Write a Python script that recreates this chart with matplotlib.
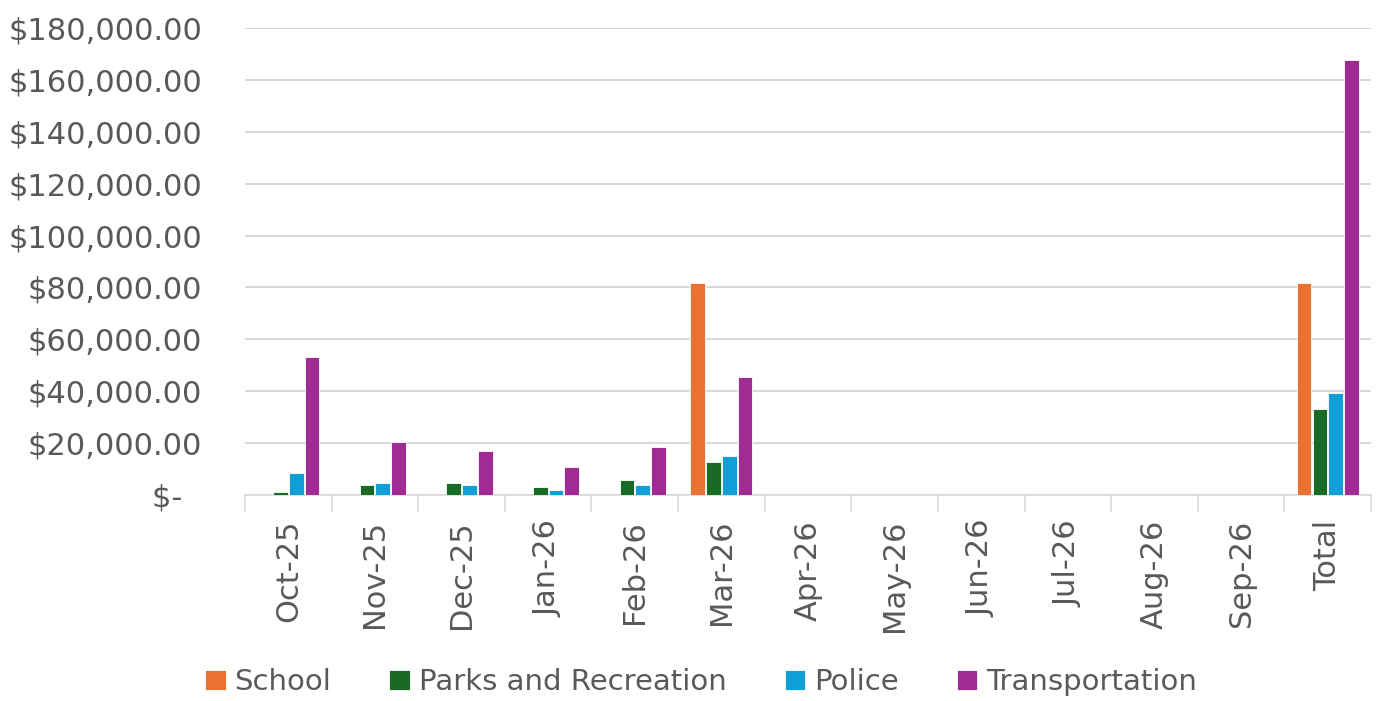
import numpy as np
import matplotlib
matplotlib.use("Agg")
import matplotlib.pyplot as plt
from matplotlib.ticker import FuncFormatter, FixedLocator

plt.rcParams["font.family"] = ["DejaVu Sans"]

months = ["Oct-25", "Nov-25", "Dec-25", "Jan-26", "Feb-26", "Mar-26", "Apr-26",
          "May-26", "Jun-26", "Jul-26", "Aug-26", "Sep-26", "Total"]
school = [0, 0, 0, 0, 0, 81800, 0, 0, 0, 0, 0, 0, 81800]
parks = [1300, 4000, 4800, 2900, 5600, 12600, 0, 0, 0, 0, 0, 0, 33300]
police = [8300, 4800, 4000, 2100, 3800, 15100, 0, 0, 0, 0, 0, 0, 39500]
transport = [53300, 20400, 16900, 10700, 18500, 45500, 0, 0, 0, 0, 0, 0, 167800]

series = [("School", school, "#E97132"),
          ("Parks and Recreation", parks, "#196B24"),
          ("Police", police, "#0F9ED5"),
          ("Transportation", transport, "#A02B93")]

TXT = "#595959"
GRID = "#D9D9D9"

fig = plt.figure(figsize=(13.81, 7.01), dpi=100)
ax = fig.add_axes([0.1774, 0.2939, 0.8154, 0.6661])

x = np.arange(len(months))
step = 0.182
bw = 0.17
for i, (name, vals, col) in enumerate(series):
    ax.bar(x + (i - 1.5) * step, vals, width=bw, color=col, edgecolor="white",
           linewidth=0.6, label=name, zorder=3)

ax.set_xlim(-0.5, len(months) - 0.5)
ax.set_ylim(0, 180000)
ax.set_yticks(np.arange(0, 180001, 20000))
ax.yaxis.set_major_formatter(FuncFormatter(
    lambda v, p: f"${v:,.2f}" if v > 0 else "$-  "))
ax.grid(axis="y", color=GRID, linewidth=1.5, zorder=0)
ax.tick_params(axis="y", length=0, labelsize=22, labelcolor=TXT, pad=31)

ax.set_xticks(x)
ax.set_xticklabels(months, rotation=90, fontsize=22, color=TXT)
ax.tick_params(axis="x", which="major", length=0, pad=18)
ax.xaxis.set_minor_locator(FixedLocator(np.arange(-0.5, len(months), 1.0)))
ax.tick_params(axis="x", which="minor", length=12, width=1.2, color=GRID)

for s in ["top", "right", "left"]:
    ax.spines[s].set_visible(False)
ax.spines["bottom"].set_color(GRID)
ax.spines["bottom"].set_linewidth(1.2)

fig.legend(*ax.get_legend_handles_labels(), loc="center",
           bbox_to_anchor=(0.5076, 0.027), ncol=4, frameon=False,
           fontsize=21, labelcolor=TXT, handlelength=0.7, handleheight=0.7,
           handletextpad=0.3, columnspacing=2.0, borderpad=0, borderaxespad=0)

fig.savefig("out.png", dpi=100)
